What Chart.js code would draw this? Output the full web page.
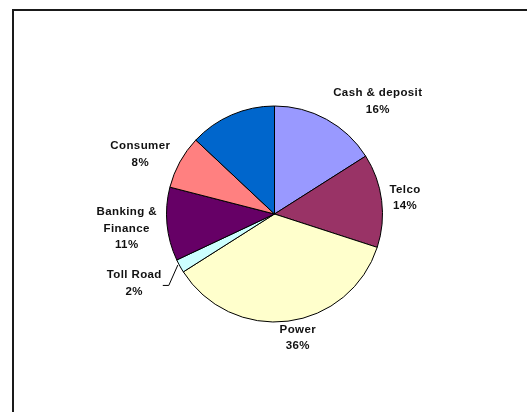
<!DOCTYPE html>
<html>
<head>
<meta charset="utf-8">
<script src="https://cdn.jsdelivr.net/npm/chart.js@4"></script>
<style>
  html, body { margin: 0; padding: 0; background: #fff; }
  #wrap { position: relative; width: 527px; height: 412px; overflow: hidden; }
  #frame { position: absolute; left: 12px; top: 9px; width: 600px; height: 500px;
           border-left: 2px solid #1a1a1a; border-top: 2px solid #1a1a1a; }
  canvas { position: absolute; left: 0; top: 0; }
</style>
</head>
<body>
<div id="wrap">
  <div id="frame"></div>
  <canvas id="pie" width="527" height="412"></canvas>
</div>
<script>
// slices clockwise from 12 o'clock
const sectors = ['Cash & deposit', 'Telco', 'Power', 'Toll Road', 'Banking & Finance', 'Consumer', ''];
const sectorLines = [['Cash & deposit'], ['Telco'], ['Power'], ['Toll Road'], ['Banking &', 'Finance'], ['Consumer'], null];
const shares = [16, 14, 36, 2, 11, 8, 13];
const sliceColors = ['#9999FF', '#993366', '#FFFFCC', '#CCFFFF', '#660066', '#FF8080', '#0066CC'];

// label placement tweaks (Excel moved some labels by hand)
const labelShift = [[32, 17], [2, 0], [7, -6], [-14, 0], [-4, 1], [-6, 11], [0, 0]];
const hasLeader = [false, false, false, true, false, false, false];
const LINE_H = 16.5;
const LABEL_GAP = 4;

const sliceLabels = {
  id: 'sliceLabels',
  afterDatasetsDraw(chart) {
    const ctx = chart.ctx;
    const meta = chart.getDatasetMeta(0);
    const total = shares.reduce((a, b) => a + b, 0);
    ctx.save();
    ctx.font = 'bold 11.5px "Liberation Sans", Arial, sans-serif';
    ctx.letterSpacing = '0.4px';
    ctx.fillStyle = '#111';
    ctx.textAlign = 'center';
    ctx.textBaseline = 'middle';
    meta.data.forEach((arc, i) => {
      if (!sectorLines[i]) return;
      const lines = [...sectorLines[i], Math.round(shares[i] / total * 100) + '%'];
      const mid = (arc.startAngle + arc.endAngle) / 2;
      const ux = Math.cos(mid), uy = Math.sin(mid);
      const w = Math.max(...lines.map(l => ctx.measureText(l).width));
      const h = lines.length * LINE_H;
      const ext = Math.abs(ux) * w / 2 + Math.abs(uy) * h / 2;
      const d = arc.outerRadius + LABEL_GAP + ext;
      const cx = arc.x + ux * d + labelShift[i][0];
      const cy = arc.y + uy * d + labelShift[i][1];
      lines.forEach((l, k) => {
        ctx.fillText(l, cx, cy - h / 2 + LINE_H * (k + 0.5));
      });
      if (hasLeader[i]) {
        const ex = arc.x + ux * arc.outerRadius, ey = arc.y + uy * arc.outerRadius;
        const rx = cx + w / 2;
        ctx.beginPath();
        ctx.strokeStyle = '#000';
        ctx.lineWidth = 1;
        ctx.moveTo(ex - 2, ey - 1);
        ctx.lineTo(rx + 7, cy + 2);
        ctx.lineTo(rx + 1, cy + 2);
        ctx.stroke();
      }
    });
    ctx.restore();
  }
};

new Chart(document.getElementById('pie'), {
  type: 'pie',
  data: {
    labels: sectors,
    datasets: [{
      data: shares,
      backgroundColor: sliceColors,
      borderColor: '#000',
      borderWidth: 1,
      hoverOffset: 0,
    }]
  },
  options: {
    responsive: false,
    animation: false,
    radius: 108,
    layout: { padding: { left: 166.5, right: 144.5, top: 106, bottom: 90 } },
    plugins: {
      legend: { display: false },
      tooltip: { enabled: false },
    },
  },
  plugins: [sliceLabels],
});
</script>
</body>
</html>
